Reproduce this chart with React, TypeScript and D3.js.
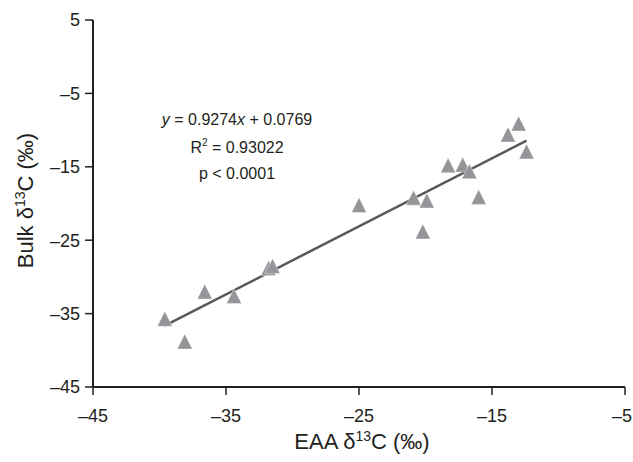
import * as d3 from "d3";

// EAA δ13C (x) vs Bulk δ13C (y)
const eaa = [-39.6, -38.1, -36.6, -34.4, -31.8, -31.5, -25.0, -20.9, -19.9, -20.2, -18.3, -17.2, -16.7, -16.0, -13.8, -13.0, -12.4];
const bulk = [-35.7, -38.8, -32.0, -32.6, -28.8, -28.5, -20.2, -19.2, -19.6, -23.8, -14.8, -14.7, -15.6, -19.1, -10.6, -9.1, -12.9];

const xTicks = [-45, -35, -25, -15, -5];
const yTicks = [-45, -35, -25, -15, -5, 5];

const slope = 0.9274;
const intercept = 0.0769;

const statLines = ["y = 0.9274x + 0.0769", "R2 = 0.93022", "p < 0.0001"];

const W = 633, H = 462;
const margin = {top: 20, right: 8, bottom: 75, left: 93};
const font = "'Liberation Sans', Arial, Helvetica, sans-serif";

export default function App() {
    const x = d3.scaleLinear().domain([-45, -5]).range([margin.left, W - margin.right]);
    const y = d3.scaleLinear().domain([-45, 5]).range([H - margin.bottom, margin.top]);

    const points = eaa.map((v, i) => ({x: v, y: bulk[i]}));
    const xExt = d3.extent(eaa) as [number, number];
    const fitLine = d3.line<number>()
        .x(d => x(d))
        .y(d => y(slope * d + intercept));

    const tw = 15, th = 15;
    const tri = (d: {x: number, y: number}) => {
        const cx = x(d.x), cy = y(d.y);
        return `M${cx},${cy - th / 2}L${cx + tw / 2},${cy + th / 2}L${cx - tw / 2},${cy + th / 2}Z`;
    };

    const x0 = x(-45), y0 = y(-45);
    const axisColor = "#231f20";
    const fmt = (t: number) => t < 0 ? "\u2013" + Math.abs(t) : String(t);

    return (
        <svg width={W} height={H} style={{position: "absolute", left: 0, top: 0, background: "#fff"}}
             fontFamily={font}>
            {/* regression line */}
            <path d={fitLine(xExt) || ""} stroke="#58595b" strokeWidth={2.5} fill="none"/>

            {/* points */}
            {points.map((d, i) => (
                <path key={i} d={tri(d)} fill="#939598" stroke="#fff" strokeWidth={0.4}/>
            ))}

            {/* axes */}
            <line x1={x0} x2={x0} y1={y(5)} y2={y0} stroke={axisColor} strokeWidth={2}/>
            <line x1={x0} x2={x(-5)} y1={y0} y2={y0} stroke={axisColor} strokeWidth={2}/>
            {yTicks.map(t => (
                <g key={"y" + t}>
                    <line x1={x0 - 8} x2={x0} y1={y(t)} y2={y(t)} stroke={axisColor} strokeWidth={1.5}/>
                    <text x={x0 - 13} y={y(t)} dy="0.35em" textAnchor="end" fontSize={18} fill="#231f20">
                        {fmt(t)}
                    </text>
                </g>
            ))}
            {xTicks.map((t, i) => {
                const last = i === xTicks.length - 1;
                return (
                    <g key={"x" + t}>
                        <line x1={x(t)} x2={x(t)} y1={y0} y2={y0 + 8} stroke={axisColor} strokeWidth={1.5}/>
                        <text x={last ? W - 1 : x(t)} y={y0 + 35} textAnchor={last ? "end" : "middle"}
                              fontSize={18} fill="#231f20">
                            {fmt(t)}
                        </text>
                    </g>
                );
            })}

            {/* axis titles */}
            <text x={362} y={449} textAnchor="middle" fontSize={22} fill="#231f20">
                EAA δ<tspan fontSize={14} dy={-8}>13</tspan><tspan dy={8}>C (‰)</tspan>
            </text>
            <text transform={`translate(33,${(y(5) + y0) / 2 - 3}) rotate(-90)`} textAnchor="middle" fontSize={22}
                  fill="#231f20">
                Bulk δ<tspan fontSize={14} dy={-8}>13</tspan><tspan dy={8}>C (‰)</tspan>
            </text>

            {/* stats */}
            <text x={237} y={125} textAnchor="middle" fontSize={16} fill="#231f20">
                <tspan fontStyle="italic">y</tspan> = 0.9274<tspan fontStyle="italic">x</tspan> + 0.0769
            </text>
            <text x={237} y={153} textAnchor="middle" fontSize={16} fill="#231f20">
                R<tspan fontSize={10} dy={-7}>2</tspan><tspan dy={7}>{statLines[1].slice(2)}</tspan>
            </text>
            <text x={237} y={179} textAnchor="middle" fontSize={16} fill="#231f20">{statLines[2]}</text>
        </svg>
    );
}
